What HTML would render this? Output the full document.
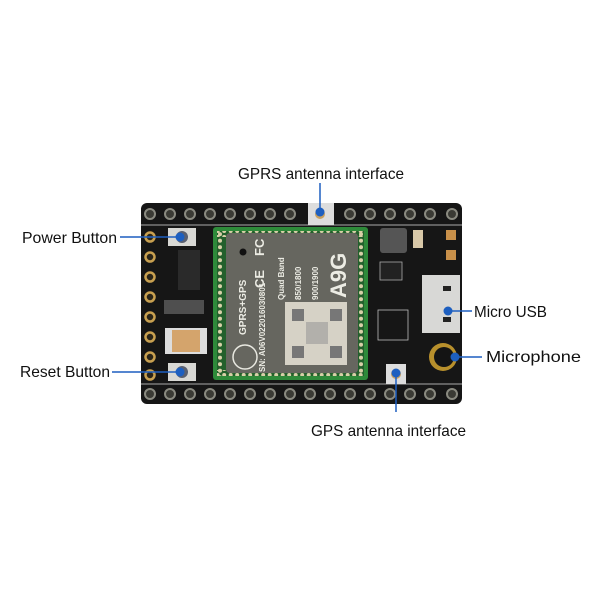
<!DOCTYPE html>
<html><head><style>
html,body{margin:0;padding:0;background:#fff;}
svg{display:block;}
.lbl{font-family:"Liberation Sans",sans-serif;font-size:16px;fill:#111;}
</style></head><body>
<svg width="600" height="600" viewBox="0 0 600 600" xmlns="http://www.w3.org/2000/svg">
<defs>
<pattern id="padsH" x="0" y="0" width="6.5" height="6" patternUnits="userSpaceOnUse"><circle cx="3.2" cy="3" r="2" fill="#d8d0a8"/></pattern>
</defs>
<rect width="600" height="600" fill="#fff"/>
<!-- board -->
<rect x="141" y="203" width="321" height="201" rx="6" fill="#161616"/>
<!-- header rows -->
<g fill="#3a3a34" stroke="#8a8a80" stroke-width="2">
<circle cx="150" cy="214" r="5"/><circle cx="170" cy="214" r="5"/><circle cx="190" cy="214" r="5"/><circle cx="210" cy="214" r="5"/><circle cx="230" cy="214" r="5"/><circle cx="250" cy="214" r="5"/><circle cx="270" cy="214" r="5"/><circle cx="290" cy="214" r="5"/>
<circle cx="350" cy="214" r="5"/><circle cx="370" cy="214" r="5"/><circle cx="390" cy="214" r="5"/><circle cx="410" cy="214" r="5"/><circle cx="430" cy="214" r="5"/><circle cx="452" cy="214" r="5"/>
<circle cx="150" cy="394" r="5"/><circle cx="170" cy="394" r="5"/><circle cx="190" cy="394" r="5"/><circle cx="210" cy="394" r="5"/><circle cx="230" cy="394" r="5"/><circle cx="250" cy="394" r="5"/><circle cx="270" cy="394" r="5"/><circle cx="290" cy="394" r="5"/><circle cx="310" cy="394" r="5"/><circle cx="330" cy="394" r="5"/><circle cx="350" cy="394" r="5"/><circle cx="370" cy="394" r="5"/><circle cx="390" cy="394" r="5"/><circle cx="410" cy="394" r="5"/><circle cx="430" cy="394" r="5"/><circle cx="452" cy="394" r="5"/>
</g>
<g fill="#2a2418" stroke="#c8a050" stroke-width="2.5">
<circle cx="150" cy="237" r="4.5"/><circle cx="150" cy="257" r="4.5"/><circle cx="150" cy="277" r="4.5"/><circle cx="150" cy="297" r="4.5"/><circle cx="150" cy="317" r="4.5"/><circle cx="150" cy="337" r="4.5"/><circle cx="150" cy="357" r="4.5"/><circle cx="150" cy="375" r="4.5"/>
</g>
<rect x="446" y="230" width="10" height="10" fill="#c8904a"/><rect x="446" y="250" width="10" height="10" fill="#c8904a"/>
<line x1="141" y1="225" x2="462" y2="225" stroke="#ddd" stroke-width="0.8"/>
<line x1="141" y1="384" x2="462" y2="384" stroke="#ddd" stroke-width="0.8"/>
<!-- buttons -->
<rect x="168" y="228" width="28" height="18" fill="#d8d8d4"/><circle cx="182" cy="237" r="6" fill="#5a6070"/>
<rect x="168" y="363" width="28" height="18" fill="#d8d8d4"/><circle cx="182" cy="372" r="6" fill="#5a6070"/>
<rect x="165" y="328" width="42" height="26" fill="#ddd"/><rect x="172" y="330" width="28" height="22" fill="#d4a46c"/>
<rect x="178" y="250" width="22" height="40" fill="#2a2a2a"/>
<rect x="164" y="300" width="40" height="14" fill="#888" opacity="0.5"/>
<!-- module -->
<rect x="213" y="227" width="155" height="153" rx="3" fill="#2e8a3a"/>
<rect x="217" y="231" width="147" height="145" fill="#23602c"/>
<rect x="217" y="231" width="147" height="6" fill="url(#padsH)"/>
<rect x="217" y="370" width="147" height="6" fill="url(#padsH)"/>
<g transform="translate(217,231) rotate(90) translate(0,-6)"><rect x="0" y="0" width="145" height="6" fill="url(#padsH)"/></g>
<g transform="translate(364,231) rotate(90)"><rect x="0" y="0" width="145" height="6" fill="url(#padsH)"/></g>
<rect x="226" y="233" width="132" height="140" rx="4" fill="#66665f"/>
<rect x="285" y="302" width="62" height="63" fill="#d6d2c6"/>
<rect x="292" y="309" width="12" height="12" fill="#777"/><rect x="330" y="309" width="12" height="12" fill="#777"/><rect x="292" y="346" width="12" height="12" fill="#777"/><rect x="330" y="346" width="12" height="12" fill="#777"/>
<rect x="306" y="322" width="22" height="22" fill="#999" opacity="0.6"/>
<circle cx="243" cy="252" r="3.5" fill="#111"/>
<g font-family="Liberation Sans,sans-serif" font-weight="bold" fill="#ecece4">
<text transform="translate(246,335) rotate(-90)" font-size="10">GPRS+GPS</text>
<text transform="translate(265,372) rotate(-90)" font-size="8">SN: A06V022016030801</text>
<text transform="translate(284,300) rotate(-90)" font-size="8">Quad Band</text>
<text transform="translate(301,300) rotate(-90)" font-size="8">850/1800</text>
<text transform="translate(318,300) rotate(-90)" font-size="8">900/1900</text>
<text transform="translate(346,298) rotate(-90)" font-size="22">A9G</text>
<text transform="translate(264,256) rotate(-90)" font-size="13">FC</text>
<text transform="translate(264,288) rotate(-90)" font-size="13">CE</text>
</g>
<circle cx="245" cy="357" r="12" fill="none" stroke="#e8e8e0" stroke-width="1.5"/>
<!-- right parts -->
<rect x="380" y="228" width="27" height="25" rx="3" fill="#555"/>
<rect x="413" y="230" width="10" height="18" fill="#d8c8a8"/>
<rect x="380" y="262" width="22" height="18" fill="#222" stroke="#aaa" stroke-width="0.8"/>
<rect x="422" y="275" width="38" height="58" fill="#d8d8d6"/>
<rect x="443" y="286" width="8" height="5" fill="#222"/><rect x="443" y="317" width="8" height="5" fill="#222"/>
<circle cx="443" cy="357" r="14" fill="#b8902c"/><circle cx="444" cy="357" r="10" fill="#141414"/>
<rect x="378" y="310" width="30" height="30" fill="none" stroke="#bbb" stroke-width="0.8"/>
<rect x="386" y="364" width="20" height="20" fill="#ddd"/><circle cx="396" cy="374" r="5" fill="#c8a060"/>
<rect x="308" y="203" width="26" height="22" fill="#ddd"/><circle cx="320" cy="214" r="5" fill="#c8a060"/>
<!-- callouts -->
<g stroke="#1d5fc0" stroke-width="1.5">
<line x1="320" y1="183" x2="320" y2="212"/>
<line x1="120" y1="237" x2="180" y2="237"/>
<line x1="112" y1="372" x2="180" y2="372"/>
<line x1="448" y1="311" x2="472" y2="311"/>
<line x1="455" y1="357" x2="482" y2="357"/>
<line x1="396" y1="373" x2="396" y2="412"/>
</g>
<g fill="#1d5fc0">
<circle cx="320" cy="212" r="4.5"/><circle cx="180" cy="237" r="4.5"/><circle cx="180" cy="372" r="4.5"/>
<circle cx="448" cy="311" r="4.5"/><circle cx="455" cy="357" r="4.5"/><circle cx="396" cy="373" r="4.5"/>
</g>
<text class="lbl" x="238" y="179" textLength="166" lengthAdjust="spacingAndGlyphs">GPRS antenna interface</text>
<text class="lbl" x="22" y="243" textLength="95" lengthAdjust="spacingAndGlyphs">Power Button</text>
<text class="lbl" x="20" y="377" textLength="90" lengthAdjust="spacingAndGlyphs">Reset Button</text>
<text class="lbl" x="474" y="317" textLength="73" lengthAdjust="spacingAndGlyphs">Micro USB</text>
<text class="lbl" x="486" y="362" textLength="95" lengthAdjust="spacingAndGlyphs">Microphone</text>
<text class="lbl" x="311" y="436" textLength="155" lengthAdjust="spacingAndGlyphs">GPS antenna interface</text>
</svg>
</body></html>
